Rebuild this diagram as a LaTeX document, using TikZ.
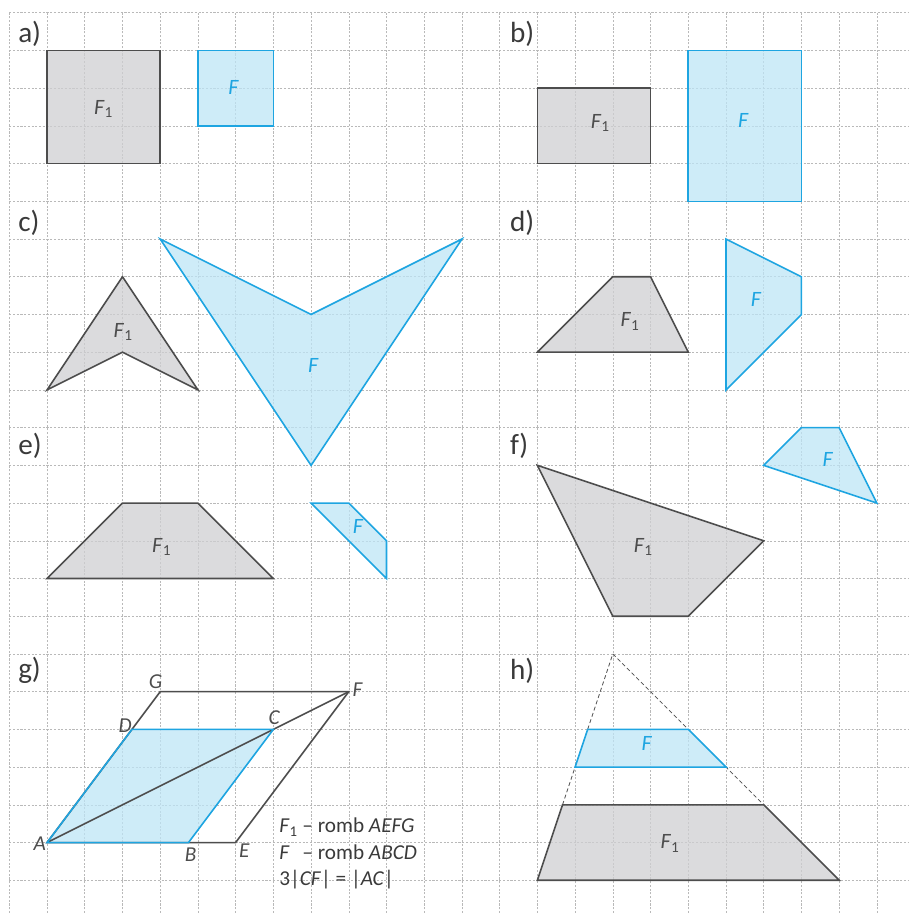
\documentclass[tikz,border=0pt]{standalone}
\usepackage{fontspec}
\setmainfont{Carlito}
\usepackage{tikz}
\definecolor{figgray}{HTML}{4D4D4D}
\definecolor{figgrayfill}{RGB}{207,207,210}
\definecolor{figblue}{HTML}{1EA5E1}
\definecolor{figbluefill}{RGB}{190,229,246}
\definecolor{labgray}{HTML}{3A3A3A}
\newcommand{\Fone}{\textit{F}\textsubscript{1}}

\begin{document}
\begin{tikzpicture}[x=1cm, y=-1cm, line join=miter,
  gridline/.style={gray!55, dash pattern=on 1.6pt off 1.2pt, line width=0.4pt},
  grayfig/.style={draw=figgray, fill=figgrayfill, fill opacity=0.75, line width=1.2pt},
  bluefig/.style={draw=figblue, fill=figbluefill, fill opacity=0.75, line width=1.2pt},
  panel/.style={anchor=base west, inner sep=0pt, text=labgray, font=\fontsize{22}{26}\selectfont},
  flab/.style={inner sep=0pt, text=figgray, font=\fontsize{16.5}{19}\selectfont},
  fblue/.style={flab, text=figblue},
  vlab/.style={inner sep=0pt, text=figgray, font=\fontsize{16}{19}\selectfont\itshape},
  gtext/.style={anchor=base west, inner sep=0pt, text=labgray, font=\fontsize{16}{19}\selectfont}]
  \useasboundingbox (-0.247,-0.337) rectangle (23.826,23.868);
  \draw[gridline] (0,23.868) grid (23.826,0);

  \node[panel] (pa) at (0.23,0.78) {a)};
  \draw[grayfig] (1,1) rectangle (4,4);
  \draw[bluefig] (5,1) rectangle (7,3);
  \node[flab] (aFone) at (2.5,2.55) {\Fone};
  \node[fblue] (aF) at (5.95,1.98) {\textit{F}};

  \node[panel] (pb) at (13.27,0.78) {b)};
  \draw[grayfig] (14,2) rectangle (17,4);
  \draw[bluefig] (18,1) rectangle (21,5);
  \node[flab] (bFone) at (15.67,2.92) {\Fone};
  \node[fblue] (bF) at (19.46,2.85) {\textit{F}};

  \node[panel] (pc) at (0.23,5.79) {c)};
  \draw[grayfig] (1,10) -- (3,7) -- (5,10) -- (3,9) -- cycle;
  \draw[bluefig] (4,6) -- (8,8) -- (12,6) -- (8,12) -- cycle;
  \node[flab] (cFone) at (3.02,8.46) {\Fone};
  \node[fblue] (cF) at (8.06,9.34) {\textit{F}};

  \node[panel] (pd) at (13.27,5.79) {d)};
  \draw[grayfig] (14,9) -- (16,7) -- (17,7) -- (18,9) -- cycle;
  \draw[bluefig] (19,6) -- (21,7) -- (21,8) -- (19,10) -- cycle;
  \node[flab] (dFone) at (16.46,8.19) {\Fone};
  \node[fblue] (dF) at (19.8,7.6) {\textit{F}};

  \node[panel] (pe) at (0.23,11.72) {e)};
  \draw[grayfig] (1,15) -- (3,13) -- (5,13) -- (7,15) -- cycle;
  \draw[bluefig] (8,13) -- (9,13) -- (10,14) -- (10,15) -- cycle;
  \node[flab] (eFone) at (4.04,14.16) {\Fone};
  \node[fblue] (eF) at (9.25,13.61) {\textit{F}};

  \node[panel] (pf) at (13.27,11.72) {f)};
  \draw[grayfig] (14,12) -- (20,14) -- (18,16) -- (16,16) -- cycle;
  \draw[bluefig] (20,12) -- (21,11) -- (22,11) -- (23,13) -- cycle;
  \node[flab] (fFone) at (16.81,14.16) {\Fone};
  \node[fblue] (fF) at (21.7,11.84) {\textit{F}};

  \node[panel] (pg) at (0.23,17.64) {g)};
  \coordinate (gA) at (1,22);
  \coordinate (gE) at (6,22);
  \coordinate (gF) at (9,18);
  \coordinate (gG) at (4,18);
  \coordinate (gB) at (4.75,22);
  \coordinate (gC) at (7,19);
  \coordinate (gD) at (3.25,19);
  \fill[figbluefill, fill opacity=0.75] (gA) -- (gB) -- (gC) -- (gD) -- cycle;
  \draw[figgray, line width=1.2pt] (gA) -- (gE) -- (gF) -- (gG) -- cycle;
  \draw[figgray, line width=1.2pt] (gA) -- (gF);
  \draw[figblue, line width=1.2pt] (gA) -- (gB) -- (gC) -- (gD) -- cycle;
  \node[vlab] (lA) at (0.81,22.02) {A};
  \node[vlab] (lB) at (4.81,22.33) {B};
  \node[vlab] (lE) at (6.23,22.22) {E};
  \node[vlab] (lG) at (3.88,17.74) {G};
  \node[vlab] (lF) at (9.23,17.96) {F};
  \node[vlab] (lD) at (3.07,18.91) {D};
  \node[vlab] (lC) at (7.02,18.68) {C};
  \node[gtext] (gl1) at (7.15,21.74) {\Fone{} – romb \textit{AEFG}};
  \node[gtext] (gl2) at (7.15,22.46) {\textit{F}\phantom{\textsubscript{1}} – romb \textit{ABCD}};
  \node[gtext] (gl3) at (7.15,23.15) {3|\textit{CF}| = |\textit{AC}|};

  \node[panel] (ph) at (13.27,17.67) {h)};
  \coordinate (hO) at (16,17);
  \coordinate (hP) at (14,23);
  \coordinate (hQ) at (22,23);
  \coordinate (hR) at (20,21);
  \coordinate (hS) at (14.667,21);
  \draw[figgray, line width=0.6pt, dash pattern=on 3pt off 2pt] (hS) -- (hO) -- (hR);
  \draw[bluefig] (15,20) -- (19,20) -- (18,19) -- (15.333,19) -- cycle;
  \draw[grayfig] (hP) -- (hQ) -- (hR) -- (hS) -- cycle;
  \node[fblue] (hF) at (16.9,19.37) {\textit{F}};
  \node[flab] (hFone) at (17.52,22.02) {\Fone};
\end{tikzpicture}
\end{document}
